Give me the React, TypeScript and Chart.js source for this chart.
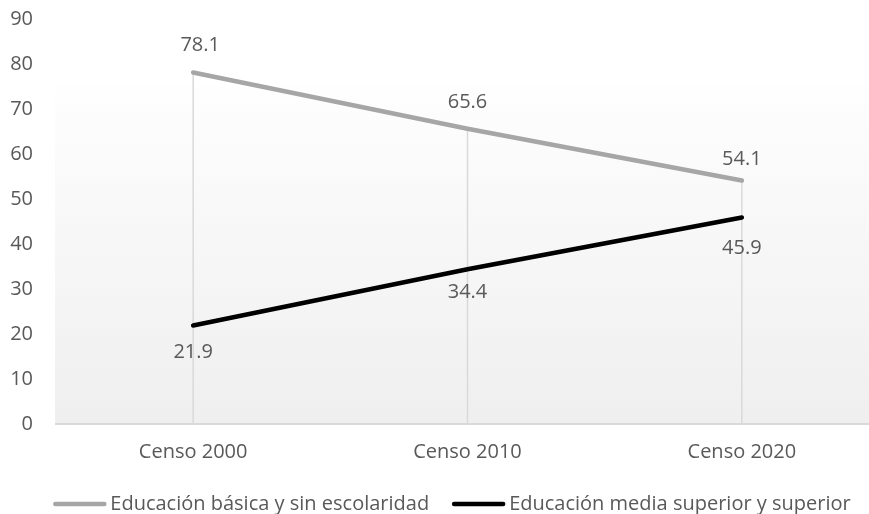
import React, { useEffect, useRef } from "react";
import { Chart, registerables } from "chart.js";

Chart.register(...registerables);

const categories = ["Censo 2000", "Censo 2010", "Censo 2020"];
const basicaValues = [78.1, 65.6, 54.1];
const mediaValues = [21.9, 34.4, 45.9];
const seriesNames = [
  "Educación básica y sin escolaridad",
  "Educación media superior y superior",
];
const seriesColors = ["#a6a6a6", "#000000"];
const yMin = 0;
const yMax = 90;
const yStep = 10;

const FONT = "'Open Sans', 'Noto Sans', sans-serif";
const TEXT = "#595959";

// label placement (style): [dx, dy] per point
const basicaLabelShift = [
  [7, -27],
  [0, -27],
  [0, -21],
];
const mediaLabelShift = [
  [0, 27],
  [0, 23],
  [0, 31],
];

const bgPlugin = {
  id: "bgGradient",
  beforeDraw(chart: any) {
    const { ctx, chartArea, scales } = chart;
    const top = scales.y.getPixelForValue(75);
    const g = ctx.createLinearGradient(0, top, 0, chartArea.bottom);
    g.addColorStop(0, "#fefefe");
    g.addColorStop(1, "#efefef");
    ctx.save();
    ctx.fillStyle = g;
    ctx.fillRect(chartArea.left - 1, top, chartArea.right - chartArea.left + 1, chartArea.bottom - top);
    ctx.restore();
  },
};

const dropLinePlugin = {
  id: "dropLines",
  beforeDatasetsDraw(chart: any) {
    const { ctx, scales } = chart;
    ctx.save();
    ctx.strokeStyle = "#d9d9d9";
    ctx.lineWidth = 1.5;
    categories.forEach((_, i) => {
      const x = scales.x.getPixelForValue(i);
      const top = Math.max(basicaValues[i], mediaValues[i]);
      ctx.beginPath();
      ctx.moveTo(x, scales.y.getPixelForValue(top));
      ctx.lineTo(x, scales.y.getPixelForValue(0));
      ctx.stroke();
    });
    ctx.restore();
  },
};

const labelPlugin = {
  id: "dataLabels",
  afterDatasetsDraw(chart: any) {
    const { ctx } = chart;
    ctx.save();
    ctx.font = `20px ${FONT}`;
    ctx.fillStyle = TEXT;
    ctx.textAlign = "center";
    ctx.textBaseline = "middle";
    const shifts = [basicaLabelShift, mediaLabelShift];
    chart.data.datasets.forEach((ds: any, di: number) => {
      const meta = chart.getDatasetMeta(di);
      meta.data.forEach((pt: any, i: number) => {
        const [dx, dy] = shifts[di][i];
        ctx.fillText(ds.data[i].toFixed(1), pt.x + dx, pt.y + dy);
      });
    });
    ctx.restore();
  },
};

const legendPlugin = {
  id: "lineLegend",
  afterDraw(chart: any) {
    const { ctx } = chart;
    const lineLen = 53;
    const textGap = 4;
    const itemGap = 23;
    const centerX = 452;
    const y = 504;
    ctx.save();
    ctx.font = `20px ${FONT}`;
    const items = chart.data.datasets.map((ds: any) => ({
      text: ds.label,
      color: ds.borderColor,
      w: ctx.measureText(ds.label).width,
    }));
    const total =
      items.reduce((s: number, it: any) => s + lineLen + textGap + it.w, 0) +
      itemGap * (items.length - 1);
    let x = centerX - total / 2;
    ctx.textBaseline = "middle";
    ctx.textAlign = "left";
    items.forEach((it: any) => {
      ctx.strokeStyle = it.color;
      ctx.lineWidth = 4.5;
      ctx.lineCap = "round";
      ctx.beginPath();
      ctx.moveTo(x + 2, y);
      ctx.lineTo(x + lineLen - 2, y);
      ctx.stroke();
      x += lineLen + textGap;
      ctx.fillStyle = TEXT;
      ctx.fillText(it.text, x, y);
      x += it.w + itemGap;
    });
    ctx.restore();
  },
};

export default function App() {
  const ref = useRef<HTMLCanvasElement | null>(null);
  useEffect(() => {
    if (!ref.current) return;
    const chart = new Chart(ref.current, {
      type: "line",
      data: {
        labels: categories,
        datasets: [
          {
            label: seriesNames[0],
            data: basicaValues,
            borderColor: seriesColors[0],
            backgroundColor: seriesColors[0],
            borderWidth: 4.5,
            pointRadius: 0,
            borderCapStyle: "round",
            tension: 0,
          },
          {
            label: seriesNames[1],
            data: mediaValues,
            borderColor: seriesColors[1],
            backgroundColor: seriesColors[1],
            borderWidth: 4.5,
            pointRadius: 0,
            borderCapStyle: "round",
            tension: 0,
          },
        ],
      },
      options: {
        responsive: false,
        animation: false,
        layout: { padding: { top: 19, left: 0, right: 0, bottom: 40 } },
        plugins: {
          tooltip: { enabled: false },
          legend: { display: false },
        },
        scales: {
          x: {
            offset: true,
            grid: { display: false, drawTicks: false },
            border: { display: true, color: "#d9d9d9", width: 2 },
            ticks: { color: TEXT, font: { family: FONT, size: 20 }, padding: 16 },
            afterFit: (s: any) => {
              s.height = 50;
              s.paddingLeft = 0;
              s.paddingRight = 0;
            },
          },
          y: {
            min: yMin,
            max: yMax,
            grid: { display: false, drawTicks: false },
            border: { display: false },
            ticks: {
              stepSize: yStep,
              color: TEXT,
              font: { family: FONT, size: 20 },
              padding: 23,
            },
            afterFit: (s: any) => {
              s.width = 56;
              s.paddingTop = 0;
              s.paddingBottom = 0;
            },
          },
          yRight: {
            position: "right",
            display: true,
            grid: { display: false, drawTicks: false },
            border: { display: false },
            ticks: { display: false },
            afterFit: (s: any) => {
              s.width = 41;
              s.paddingTop = 0;
              s.paddingBottom = 0;
            },
          },
        },
      },
      plugins: [bgPlugin, dropLinePlugin, labelPlugin, legendPlugin],
    } as any);
    return () => chart.destroy();
  }, []);

  return (
    <div
      style={{
        position: "fixed",
        left: 0,
        top: 0,
        width: 869,
        height: 514,
        overflow: "hidden",
        background: "#ffffff",
      }}
    >
      <canvas ref={ref} width={920} height={514} style={{ display: "block" }} />
    </div>
  );
}
